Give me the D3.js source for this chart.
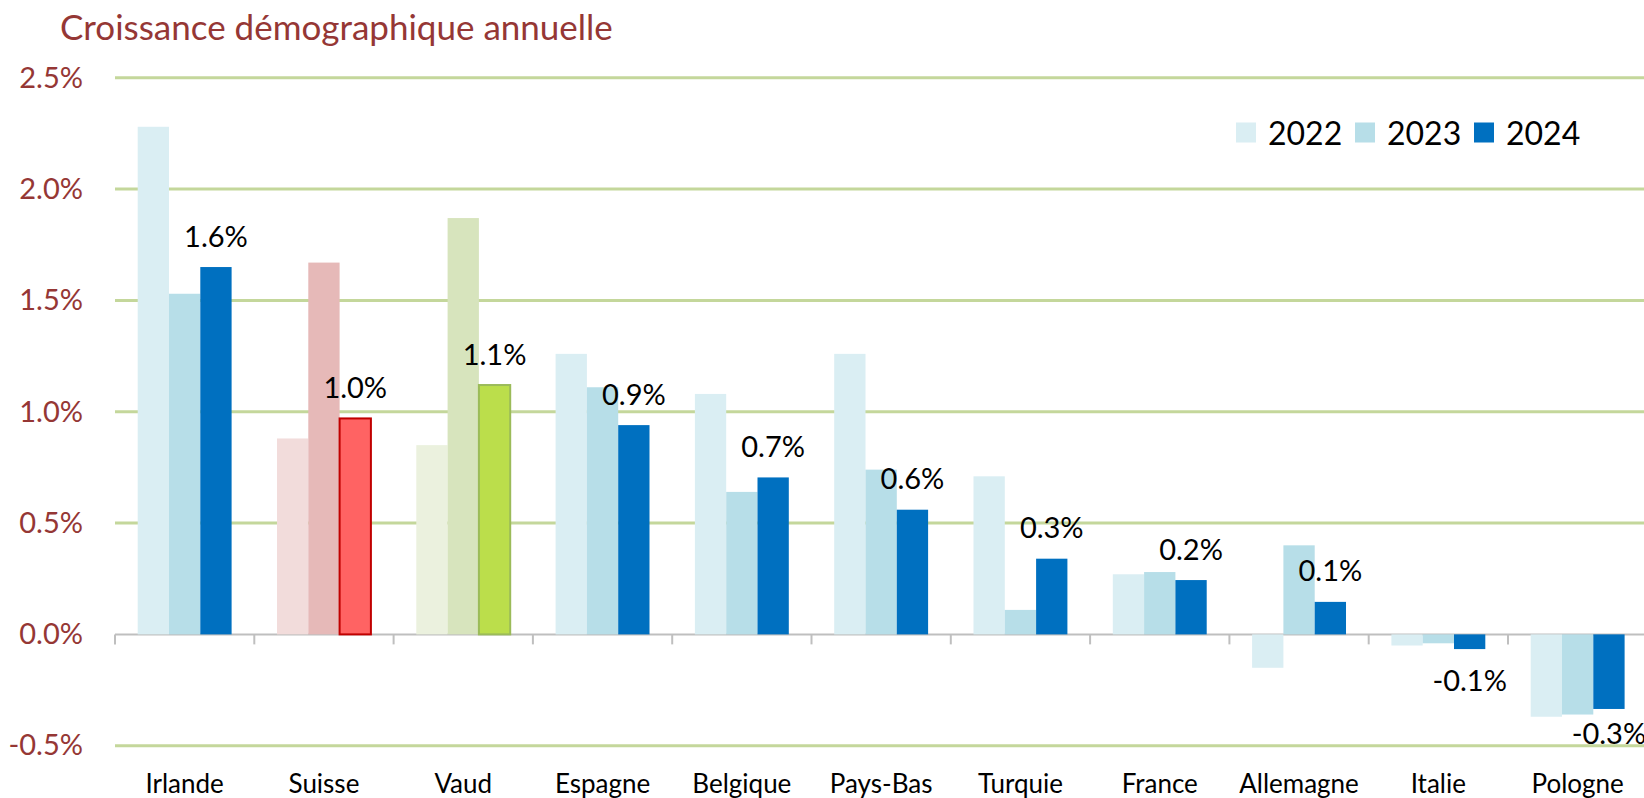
<!DOCTYPE html>
<html>
<head>
<meta charset="utf-8">
<script src="https://cdn.jsdelivr.net/npm/d3@7"></script>
<style>
  html, body { margin: 0; padding: 0; background: #fff; }
  svg { display: block; font-family: Lato, sans-serif; }
</style>
</head>
<body>
<svg id="chart"></svg>
<script>
const title = 'Croissance démographique annuelle';
const categories = ['Irlande', 'Suisse', 'Vaud', 'Espagne', 'Belgique', 'Pays-Bas', 'Turquie', 'France', 'Allemagne', 'Italie', 'Pologne'];
const years = ['2022', '2023', '2024'];
const values2022 = [2.28, 0.88, 0.85, 1.26, 1.08, 1.26, 0.71, 0.27, -0.15, -0.05, -0.37];
const values2023 = [1.53, 1.67, 1.87, 1.11, 0.64, 0.74, 0.11, 0.28, 0.40, -0.04, -0.36];
const values2024 = [1.65, 0.97, 1.12, 0.94, 0.705, 0.56, 0.34, 0.244, 0.146, -0.066, -0.335];
const yTicks = [-0.5, 0, 0.5, 1, 1.5, 2, 2.5];

const size = { width: 1644, height: 798 };
const plot = { left: 115, step: 139.3, top: 77.8, bottom: 745.7 };

const palette = {
    default: ['#DAEEF3', '#B7DEE8', '#0070C0'],
    Suisse: ['#F2DCDB', '#E6B9B8', '#FF6363'],
    Vaud: ['#EBF1DE', '#D7E4BD', '#BBDE4B']
};
const highlightStroke = { Suisse: '#C00000', Vaud: '#9BBB59' };
const titleColor = '#953735';
const gridColor = '#C4D79B';

const seriesValues = [values2022, values2023, values2024];
const rows = [];
categories.forEach((cat, i) => {
    years.forEach((yr, j) => {
        rows.push({ cat, year: yr, idx: j, value: seriesValues[j][i] });
    });
});

const fmt = d => d.toFixed(1) + '%';

const svg = d3.select('#chart')
    .attr('width', size.width)
    .attr('height', size.height);

const x = d3.scaleBand()
    .domain(categories)
    .range([plot.left, plot.left + plot.step * categories.length])
    .padding(0);

const xSub = d3.scaleBand()
    .domain(years)
    .range([0, x.bandwidth()])
    .paddingInner(0)
    .paddingOuter(0.725);

const y = d3.scaleLinear()
    .domain([yTicks[0], yTicks[yTicks.length - 1]])
    .range([plot.bottom, plot.top]);

// title
svg.append('text')
    .attr('x', 60)
    .attr('y', 40)
    .attr('fill', titleColor)
    .style('font-size', '35px')
    .text(title);

// gridlines (no line at zero, the axis sits there)
svg.append('g')
    .selectAll('line')
    .data(yTicks.filter(d => d !== 0))
    .join('line')
    .attr('x1', plot.left)
    .attr('x2', size.width)
    .attr('y1', d => y(d))
    .attr('y2', d => y(d))
    .attr('stroke', gridColor)
    .attr('stroke-width', 3);

// y labels
const yAxis = d3.axisLeft(y).tickValues(yTicks).tickSize(0).tickPadding(0).tickFormat(fmt);
svg.append('g')
    .attr('transform', 'translate(83,0)')
    .call(yAxis)
    .call(g => g.select('.domain').remove())
    .selectAll('text')
    .attr('fill', titleColor)
    .style('font-family', 'Lato, sans-serif')
    .style('font-size', '29px');

// zero axis with ticks at category boundaries
const axisG = svg.append('g');
axisG.append('line')
    .attr('x1', plot.left)
    .attr('x2', size.width)
    .attr('y1', y(0))
    .attr('y2', y(0))
    .attr('stroke', '#BFBFBF')
    .attr('stroke-width', 2);
axisG.selectAll('.tick')
    .data(categories)
    .join('line')
    .attr('class', 'tick')
    .attr('x1', d => x(d))
    .attr('x2', d => x(d))
    .attr('y1', y(0))
    .attr('y2', y(0) + 10)
    .attr('stroke', '#BFBFBF')
    .attr('stroke-width', 2);

// bars
svg.append('g')
    .selectAll('rect')
    .data(rows)
    .join('rect')
    .attr('x', d => x(d.cat) + xSub(d.year))
    .attr('width', xSub.bandwidth())
    .attr('y', d => y(Math.max(0, d.value)))
    .attr('height', d => Math.abs(y(d.value) - y(0)))
    .attr('fill', d => (palette[d.cat] || palette.default)[d.idx])
    .attr('stroke', d => d.idx === 2 && highlightStroke[d.cat] ? highlightStroke[d.cat] : 'none')
    .attr('stroke-width', 2);

// data labels for 2024
svg.append('g')
    .selectAll('text')
    .data(rows.filter(d => d.year === '2024'))
    .join('text')
    .attr('x', d => x(d.cat) + xSub(d.year) + xSub.bandwidth() / 2)
    .attr('y', d => d.value >= 0 ? y(d.value) - 20.5 : Math.min(y(d.value) + 42, plot.bottom - 2))
    .attr('text-anchor', 'middle')
    .attr('fill', '#000')
    .style('font-size', '29px')
    .text(d => fmt(d.value));

// category labels
svg.append('g')
    .selectAll('text')
    .data(categories)
    .join('text')
    .attr('x', d => x(d) + x.bandwidth() / 2)
    .attr('y', 793)
    .attr('text-anchor', 'middle')
    .attr('fill', '#000')
    .style('font-size', '26px')
    .text(d => d);

// legend
const legend = svg.append('g')
    .selectAll('g')
    .data(years)
    .join('g')
    .attr('transform', (d, i) => `translate(${1236 + i * 119},122.5)`);
legend.append('rect')
    .attr('width', 20)
    .attr('height', 20)
    .attr('fill', (d, i) => palette.default[i]);
legend.append('text')
    .attr('x', 32)
    .attr('y', 22.5)
    .attr('fill', '#000')
    .style('font-size', '32px')
    .text(d => d);
</script>
</body>
</html>
